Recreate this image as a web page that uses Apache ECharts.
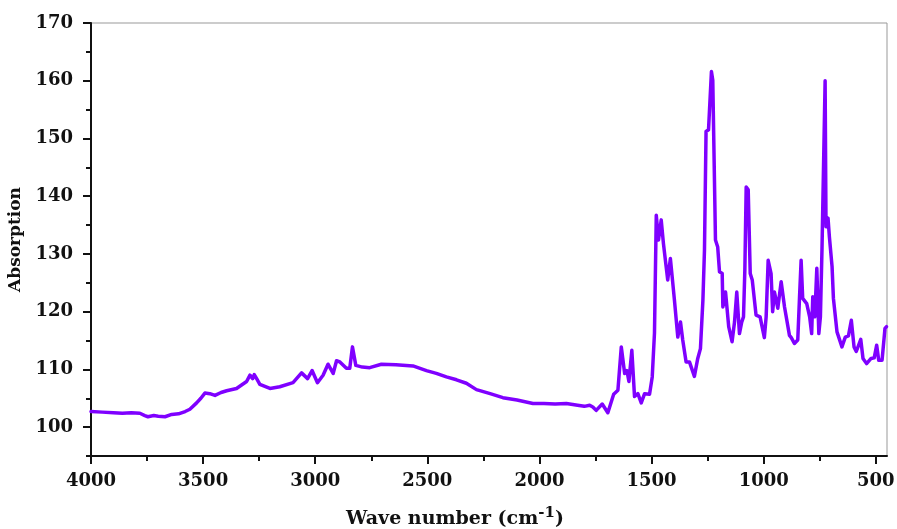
<!DOCTYPE html>
<html>
<head>
<meta charset="utf-8">
<script src="https://cdn.jsdelivr.net/npm/echarts@6/dist/echarts.min.js"></script>
<style>
  html, body { margin: 0; padding: 0; background: #fff; }
  #chart { width: 897px; height: 529px; }
</style>
</head>
<body>
<div id="chart"></div>
<script>
const FONT = "DejaVu Serif";
const LINE_COLOR = "#7f00ff";

// wave numbers (cm-1), descending
const waveNumbers = [
  4000, 3950, 3900, 3860, 3820, 3782, 3760, 3746, 3720, 3700, 3670, 3640,
  3610, 3580, 3559, 3529, 3510, 3492, 3470, 3447, 3420, 3395, 3351, 3306,
  3291, 3279, 3272, 3260, 3247, 3202, 3158, 3099, 3061, 3034, 3014, 2990,
  2965, 2943, 2920, 2905, 2890, 2861, 2846, 2834, 2819, 2790, 2757, 2705,
  2640, 2564, 2504, 2460, 2415, 2370, 2326, 2281, 2220, 2163, 2100, 2029,
  1980, 1930, 1880, 1830, 1800, 1776, 1762, 1747, 1739, 1720, 1695, 1669,
  1650, 1635, 1620, 1610, 1601, 1588, 1576, 1561, 1546, 1531, 1509, 1497,
  1487, 1479, 1469, 1457, 1447, 1435, 1428, 1416, 1398, 1383, 1371, 1361,
  1346, 1331, 1309, 1294, 1282, 1271, 1264, 1257, 1246, 1233, 1227, 1215,
  1205, 1197, 1185, 1182, 1170, 1156, 1141, 1130, 1120, 1108, 1098, 1090,
  1084, 1078, 1069, 1060, 1051, 1034, 1016, 997, 989, 980, 967, 960, 952,
  937, 922, 907, 885, 877, 863, 848, 840, 833, 826, 808, 795, 786, 781,
  772, 763, 754, 747, 740, 726, 722, 713, 707, 695, 689, 673, 651, 636,
  622, 609, 597, 587, 567, 557, 541, 521, 507, 496, 487, 472, 459, 452
];

// absorption values for the wave numbers above
const absorption = [
  102.7, 102.6, 102.5, 102.4, 102.5, 102.4, 102.0, 101.8, 102.0, 101.9, 101.8, 102.2,
  102.3, 102.7, 103.1, 104.2, 105.0, 105.9, 105.8, 105.5, 106.0, 106.3, 106.7, 107.9,
  109.0, 108.4, 109.1, 108.3, 107.4, 106.7, 107.0, 107.7, 109.4, 108.4, 109.8, 107.7,
  109.0, 110.9, 109.3, 111.5, 111.3, 110.2, 110.2, 113.9, 110.7, 110.4, 110.3, 110.9,
  110.8, 110.6, 109.8, 109.3, 108.7, 108.2, 107.6, 106.5, 105.8, 105.1, 104.7, 104.1,
  104.1, 104.0, 104.1, 103.8, 103.6, 103.8, 103.5, 102.9, 102.9, 104.0, 102.5, 105.7,
  106.4, 113.9, 109.3, 109.8, 107.9, 113.3, 105.3, 105.8, 104.2, 105.8, 105.7, 108.7,
  116.3, 136.7, 132.4, 135.9, 131.8, 127.8, 125.5, 129.2, 122.0, 115.6, 118.2, 115.1,
  111.3, 111.3, 108.8, 111.9, 113.6, 122.0, 130.7, 151.2, 151.5, 161.6, 160.1, 132.4,
  131.2, 126.9, 126.6, 120.8, 123.4, 117.4, 114.8, 118.2, 123.4, 116.2, 118.2, 119.1,
  127.2, 141.6, 141.1, 126.6, 125.5, 119.4, 119.1, 115.5, 119.1, 128.9, 126.6, 120.0, 123.4,
  120.6, 125.2, 120.8, 115.9, 115.5, 114.5, 115.1, 122.6, 128.9, 122.3, 121.4, 119.1, 116.2, 122.6,
  119.1, 127.5, 116.2, 119.1, 130.7, 160.0, 134.7, 136.2, 133.0, 127.8, 122.3, 116.5, 113.9, 115.6,
  115.8, 118.5, 113.9, 113.1, 115.2, 111.9, 111.0, 111.9, 112.0, 114.2, 111.6, 111.6, 117.1, 117.4
];

const xLabels = [4000, 3500, 3000, 2500, 2000, 1500, 1000, 500];
const xMinor = [3750, 3250, 2750, 2250, 1750, 1250, 750];
const yLabels = [100, 110, 120, 130, 140, 150, 160, 170];
const yMinor = [95, 105, 115, 125, 135, 145, 155, 165];

const chart = echarts.init(document.getElementById("chart"));

const axisLine = { show: true, onZero: false, lineStyle: { color: "#111", width: 2 } };
const labelStyle = { fontFamily: FONT, fontWeight: "bold", fontSize: 18, color: "#111", formatter: v => String(v) };

chart.setOption({
  animation: false,
  grid: {
    left: 91, right: 10, top: 23, bottom: 73,
    outerBoundsMode: "none", containLabel: false,
    show: true, borderColor: "#999", borderWidth: 1
  },
  xAxis: [
    {
      type: "value", inverse: true, min: 450, max: 4000, position: "bottom",
      axisLine,
      splitLine: { show: false },
      axisTick: { show: true, customValues: xLabels, length: 8, lineStyle: { color: "#111", width: 2 } },
      axisLabel: { ...labelStyle, customValues: xLabels, margin: 16 },
      name: "Wave number (cm{sup|-1})",
      nameLocation: "middle",
      nameGap: 50,
      nameTextStyle: {
        fontFamily: FONT, fontWeight: "bold", fontSize: 19, color: "#111",
        padding: [0, 68, 0, 0],
        rich: {
          sup: { fontFamily: FONT, fontWeight: "bold", fontSize: 15, color: "#111", padding: [0, 0, 12, 0] }
        }
      }
    },
    {
      type: "value", inverse: true, min: 450, max: 4000, position: "bottom",
      axisLine: { show: false },
      splitLine: { show: false },
      axisTick: { show: true, customValues: xMinor, length: 5, lineStyle: { color: "#111", width: 2 } },
      axisLabel: { show: false }
    }
  ],
  yAxis: [
    {
      type: "value", min: 95, max: 170,
      axisLine,
      splitLine: { show: false },
      axisTick: { show: true, customValues: yLabels, length: 8, lineStyle: { color: "#111", width: 2 } },
      axisLabel: { ...labelStyle, customValues: yLabels, margin: 18 },
      name: "Absorption",
      nameLocation: "middle",
      nameGap: 66,
      nameTextStyle: { fontFamily: FONT, fontWeight: "bold", fontSize: 17, color: "#111" }
    },
    {
      type: "value", min: 95, max: 170, position: "left",
      axisLine: { show: false },
      splitLine: { show: false },
      axisTick: { show: true, customValues: yMinor, length: 5, lineStyle: { color: "#111", width: 2 } },
      axisLabel: { show: false }
    }
  ],
  series: [{
    type: "line",
    xAxisIndex: 0,
    yAxisIndex: 0,
    showSymbol: false,
    smooth: false,
    lineStyle: { color: LINE_COLOR, width: 3.5, join: "round", cap: "round" },
    data: waveNumbers.map((w, i) => [w, absorption[i]])
  }]
});
</script>
</body>
</html>
